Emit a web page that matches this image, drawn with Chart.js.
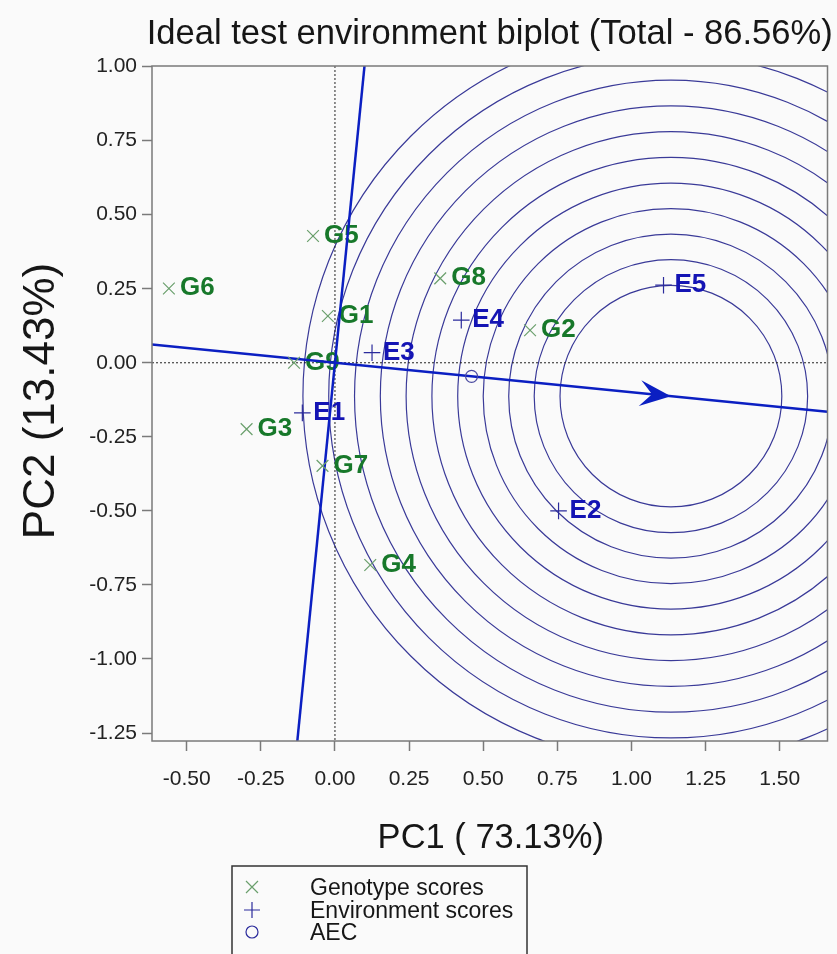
<!DOCTYPE html>
<html>
<head>
<meta charset="utf-8">
<script src="https://cdn.jsdelivr.net/npm/chart.js@4.4.1/dist/chart.umd.min.js"></script>
<style>
  html, body { margin: 0; padding: 0; background: #fafafa; }
  #wrap { width: 837px; height: 954px; }
</style>
</head>
<body>
<div id="wrap"><canvas id="biplot" width="837" height="954"></canvas></div>
<script>
// ---- values ----
const genoNames = ['G1', 'G2', 'G3', 'G4', 'G5', 'G6', 'G7', 'G8', 'G9'];
const genoX = [-0.024, 0.658, -0.298, 0.119, -0.074, -0.560, -0.042, 0.355, -0.138];
const genoY = [0.158, 0.110, -0.224, -0.683, 0.428, 0.251, -0.348, 0.285, 0.000];

const envNames = ['E1', 'E2', 'E3', 'E4', 'E5'];
const envX = [-0.110, 0.754, 0.125, 0.426, 1.108];
const envY = [-0.169, -0.500, 0.034, 0.144, 0.262];

// concentric circles round the ideal environment
const circleRadii = [0.374, 0.461, 0.547, 0.633, 0.719, 0.806, 0.893, 0.980, 1.067, 1.154, 1.241];

const xTicks = [-0.5, -0.25, 0, 0.25, 0.5, 0.75, 1, 1.25, 1.5];
const yTicks = [-1.25, -1, -0.75, -0.5, -0.25, 0, 0.25, 0.5, 0.75, 1];

const legendNames = ['Genotype scores', 'Environment scores', 'AEC'];
const titleText = 'Ideal test environment biplot (Total - 86.56%)';
const xTitle = 'PC1 ( 73.13%)';
const yTitle = 'PC2 (13.43%)';

// ---- look ----
const FONT = "'Liberation Sans', Arial, sans-serif";
const genoMarkColor = '#6a9f6c';
const genoTextColor = '#17782a';
const envMarkColor = '#2b2b9c';
const envTextColor = '#1414b4';
const circleColor = '#3a3a98';
const aecColor = '#0b1fc2';
const frameColor = '#7a7a7a';

const xMin = -0.617, xMax = 1.661;
const yMin = -1.277, yMax = 1.002;

// AEC = mean environment; ideal point sits on it at the longest environment vector
const aecX = envX.reduce((a, b) => a + b, 0) / envX.length;
const aecY = envY.reduce((a, b) => a + b, 0) / envY.length;
const aecLen = Math.hypot(aecX, aecY);
const maxEnvLen = Math.max(...envX.map((x, i) => Math.hypot(x, envY[i])));
const idealX = aecX / aecLen * maxEnvLen;
const idealY = aecY / aecLen * maxEnvLen;
const slope = aecY / aecX;

const genoPts = genoX.map((x, i) => ({ x: x, y: genoY[i] }));
const envPts = envX.map((x, i) => ({ x: x, y: envY[i] }));
const aecLine = [{ x: xMin, y: slope * xMin }, { x: xMax, y: slope * xMax }];
const perpLine = [{ x: -slope * yMin, y: yMin }, { x: -slope * yMax, y: yMax }];

const biplotDraw = {
   id: 'biplotDraw',
   beforeDatasetsDraw(chart) {
      const ctx = chart.ctx, a = chart.chartArea;
      const sx = chart.scales.x, sy = chart.scales.y;
      ctx.save();
      ctx.beginPath();
      ctx.rect(a.left, a.top, a.right - a.left, a.bottom - a.top);
      ctx.clip();

      // circles
      const cx = sx.getPixelForValue(idealX), cy = sy.getPixelForValue(idealY);
      ctx.strokeStyle = circleColor;
      ctx.lineWidth = 1.2;
      circleRadii.forEach(r => {
         const rx = Math.abs(sx.getPixelForValue(idealX + r) - cx);
         const ry = Math.abs(sy.getPixelForValue(idealY + r) - cy);
         ctx.beginPath();
         ctx.ellipse(cx, cy, rx, ry, 0, 0, Math.PI * 2);
         ctx.stroke();
      });

      // dotted zero lines
      ctx.strokeStyle = '#222';
      ctx.lineWidth = 1;
      ctx.setLineDash([2, 2]);
      const x0 = sx.getPixelForValue(0), y0 = sy.getPixelForValue(0);
      ctx.beginPath();
      ctx.moveTo(x0, a.top); ctx.lineTo(x0, a.bottom);
      ctx.moveTo(a.left, y0); ctx.lineTo(a.right, y0);
      ctx.stroke();
      ctx.setLineDash([]);

      // point labels
      ctx.font = 'bold 26px ' + FONT;
      ctx.textAlign = 'left';
      ctx.textBaseline = 'alphabetic';
      ctx.fillStyle = genoTextColor;
      genoNames.forEach((n, i) => {
         ctx.fillText(n, sx.getPixelForValue(genoX[i]) + 11, sy.getPixelForValue(genoY[i]) + 7);
      });
      ctx.fillStyle = envTextColor;
      envNames.forEach((n, i) => {
         ctx.fillText(n, sx.getPixelForValue(envX[i]) + 11, sy.getPixelForValue(envY[i]) + 7);
      });
      ctx.restore();
   },
   afterDatasetsDraw(chart) {
      const ctx = chart.ctx, a = chart.chartArea;
      const sx = chart.scales.x, sy = chart.scales.y;
      // arrow head at the ideal point
      const tx = sx.getPixelForValue(idealX), ty = sy.getPixelForValue(idealY);
      const ang = Math.atan2(ty - sy.getPixelForValue(0), tx - sx.getPixelForValue(0));
      ctx.save();
      ctx.translate(tx, ty);
      ctx.rotate(ang);
      ctx.fillStyle = aecColor;
      ctx.beginPath();
      ctx.moveTo(0, 0);
      ctx.lineTo(-31, -13);
      ctx.lineTo(-19, 0);
      ctx.lineTo(-31, 13);
      ctx.closePath();
      ctx.fill();
      ctx.restore();

      // frame
      ctx.save();
      ctx.strokeStyle = frameColor;
      ctx.lineWidth = 1.5;
      ctx.strokeRect(a.left, a.top, a.right - a.left, a.bottom - a.top);
      ctx.restore();
   },
   afterDraw(chart) {
      const ctx = chart.ctx, a = chart.chartArea;
      const mid = (a.left + a.right) / 2;
      ctx.save();
      ctx.fillStyle = '#161616';
      ctx.textAlign = 'center';
      ctx.textBaseline = 'alphabetic';
      ctx.font = '34.6px ' + FONT;
      ctx.fillText(titleText, mid, 44);
      ctx.font = '34.5px ' + FONT;
      ctx.fillText(xTitle, mid + 1, 848);
      ctx.save();
      ctx.translate(54, 401);
      ctx.rotate(-Math.PI / 2);
      ctx.font = '44px ' + FONT;
      ctx.fillText(yTitle, 0, 0);
      ctx.restore();

      // legend box
      ctx.strokeStyle = '#333';
      ctx.lineWidth = 1.5;
      ctx.strokeRect(232, 866, 295, 110);
      ctx.font = '23px ' + FONT;
      ctx.textAlign = 'left';
      const rows = [887, 910, 932];
      legendNames.forEach((n, i) => {
         ctx.fillStyle = '#161616';
         ctx.fillText(n, 310, rows[i] + 8);
      });
      const lx = 252;
      ctx.lineWidth = 1.2;
      ctx.strokeStyle = genoMarkColor;
      ctx.beginPath();
      ctx.moveTo(lx - 6, rows[0] - 6); ctx.lineTo(lx + 6, rows[0] + 6);
      ctx.moveTo(lx + 6, rows[0] - 6); ctx.lineTo(lx - 6, rows[0] + 6);
      ctx.stroke();
      ctx.strokeStyle = envMarkColor;
      ctx.beginPath();
      ctx.moveTo(lx - 8, rows[1]); ctx.lineTo(lx + 8, rows[1]);
      ctx.moveTo(lx, rows[1] - 8); ctx.lineTo(lx, rows[1] + 8);
      ctx.stroke();
      ctx.beginPath();
      ctx.arc(lx, rows[2], 6, 0, Math.PI * 2);
      ctx.stroke();
      ctx.restore();
   }
};

const tickFont = { family: FONT, size: 21 };

new Chart(document.getElementById('biplot'), {
   type: 'scatter',
   data: {
      datasets: [{
         label: legendNames[0],
         data: genoPts,
         pointStyle: 'crossRot',
         pointRadius: 8.3,
         borderColor: genoMarkColor,
         borderWidth: 1.2,
      }, {
         label: legendNames[1],
         data: envPts,
         pointStyle: 'cross',
         pointRadius: 8.3,
         borderColor: envMarkColor,
         borderWidth: 1.2,
      }, {
         label: legendNames[2],
         data: [{ x: aecX, y: aecY }],
         pointStyle: 'circle',
         pointRadius: 6,
         backgroundColor: 'rgba(0,0,0,0)',
         borderColor: '#4a4aa0',
         borderWidth: 1.2,
      }, {
         label: 'AEC abscissa',
         data: aecLine,
         showLine: true,
         pointRadius: 0,
         borderColor: aecColor,
         borderWidth: 2.5,
      }, {
         label: 'AEC ordinate',
         data: perpLine,
         showLine: true,
         pointRadius: 0,
         borderColor: aecColor,
         borderWidth: 2.5,
      }],
   },
   options: {
      responsive: false,
      animation: false,
      layout: {
         padding: { top: 66, right: 9, left: 0, bottom: 153 },
      },
      scales: {
         x: {
            type: 'linear',
            min: xMin,
            max: xMax,
            afterBuildTicks: s => { s.ticks = xTicks.map(v => ({ value: v })); },
            afterFit: s => { s.height = 60; },
            grid: {
               drawOnChartArea: false,
               drawTicks: true,
               tickLength: 10,
               tickColor: frameColor,
               tickWidth: 1.5,
            },
            border: { display: false },
            ticks: {
               font: tickFont,
               color: '#222',
               padding: 16,
               maxRotation: 0,
               autoSkip: false,
               callback: v => Number(v).toFixed(2),
            },
         },
         y: {
            type: 'linear',
            min: yMin,
            max: yMax,
            afterBuildTicks: s => { s.ticks = yTicks.map(v => ({ value: v })); },
            afterFit: s => { s.width = 152; },
            grid: {
               drawOnChartArea: false,
               drawTicks: true,
               tickLength: 10,
               tickColor: frameColor,
               tickWidth: 1.5,
            },
            border: { display: false },
            ticks: {
               font: tickFont,
               color: '#222',
               padding: 5,
               autoSkip: false,
               callback: v => Number(v).toFixed(2),
            },
         },
      },
      plugins: {
         legend: { display: false },
         tooltip: { enabled: false },
      },
   },
   plugins: [biplotDraw],
});
</script>
</body>
</html>
